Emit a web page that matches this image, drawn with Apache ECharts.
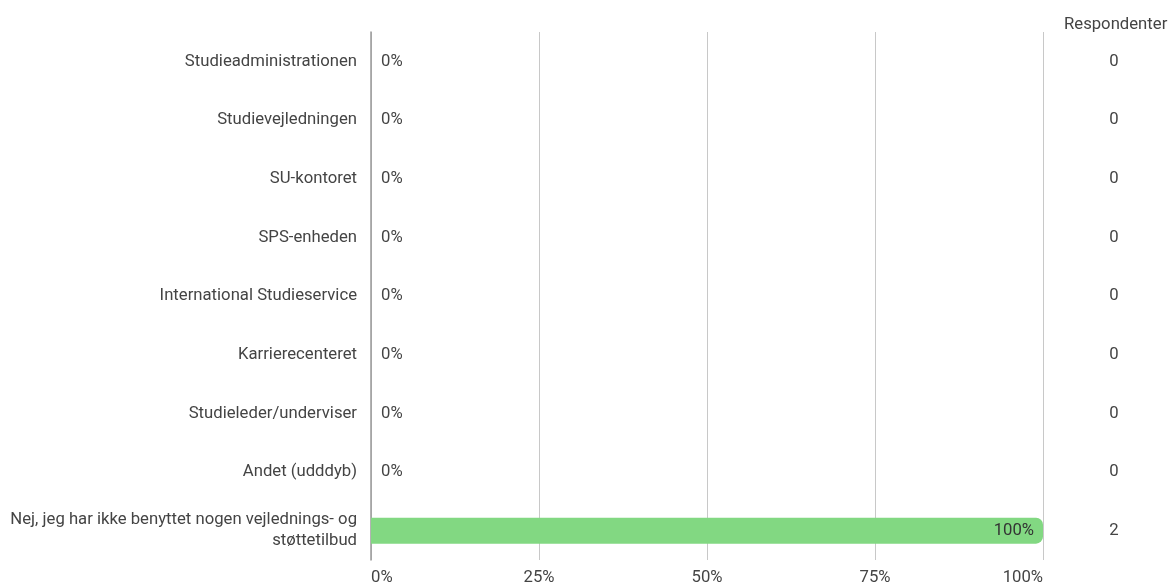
<!DOCTYPE html>
<html><head><meta charset="utf-8">
<script src="https://cdn.jsdelivr.net/npm/echarts@6/dist/echarts.min.js"></script>
<style>html,body{margin:0;padding:0;background:#fff}#c{width:1169px;height:586px}</style>
</head><body><div id="c"></div>
<script>
const categories = [
  "Studieadministrationen",
  "Studievejledningen",
  "SU-kontoret",
  "SPS-enheden",
  "International Studieservice",
  "Karrierecenteret",
  "Studieleder/underviser",
  "Andet (udddyb)",
  "Nej, jeg har ikke benyttet nogen vejlednings- og\nstøttetilbud"
];
const percentValues = [0, 0, 0, 0, 0, 0, 0, 0, 100];
const respondents = [0, 0, 0, 0, 0, 0, 0, 0, 2];
const xTicks = [0, 25, 50, 75, 100];
const columnTitle = "Respondenter";

const chart = echarts.init(document.getElementById('c'), null, {renderer: 'canvas'});
const font = 'Roboto';
const fs = 16.7;
const txt = '#444444';
chart.setOption({
  animation: false,
  textStyle: {fontFamily: font},
  title: {
    text: columnTitle, left: 1059, top: 11,
    textStyle: {fontFamily: font, fontSize: fs, fontWeight: 'normal', color: txt}
  },
  grid: {left: 371, right: 126, top: 32, bottom: 16, containLabel: false},
  xAxis: {
    type: 'value', min: xTicks[0], max: xTicks[xTicks.length - 1], interval: 25,
    axisLabel: {formatter: v => v + '%', fontSize: fs, color: txt, margin: 9, fontFamily: font,
      alignMinLabel: 'left', alignMaxLabel: 'right'},
    axisLine: {show: false}, axisTick: {show: false},
    splitLine: {show: true, lineStyle: {color: '#c8c8c8', width: 1}}
  },
  yAxis: [{
    type: 'category', data: categories, inverse: true,
    axisLabel: {fontSize: fs, color: txt, margin: 14, lineHeight: 21, fontFamily: font},
    axisLine: {show: true, lineStyle: {color: '#9a9a9a', width: 1.5}},
    axisTick: {show: false}
  }, {
    type: 'category', data: respondents.map(String), inverse: true, position: 'right',
    axisLabel: {fontSize: fs, color: txt, margin: 71, align: 'center', fontFamily: font},
    axisLine: {show: false}, axisTick: {show: false}
  }],
  series: [{
    type: 'bar', yAxisIndex: 0, barWidth: 26,
    itemStyle: {color: '#82d882', borderRadius: [0, 7, 7, 0]},
    data: percentValues.map(v => ({
      value: v,
      label: {
        show: true,
        position: v > 10 ? 'insideRight' : 'right',
        distance: v > 10 ? 9 : 10,
        formatter: '{c}%', fontSize: fs, color: v > 10 ? '#333' : txt, fontFamily: font
      }
    }))
  }]
});
</script></body></html>
